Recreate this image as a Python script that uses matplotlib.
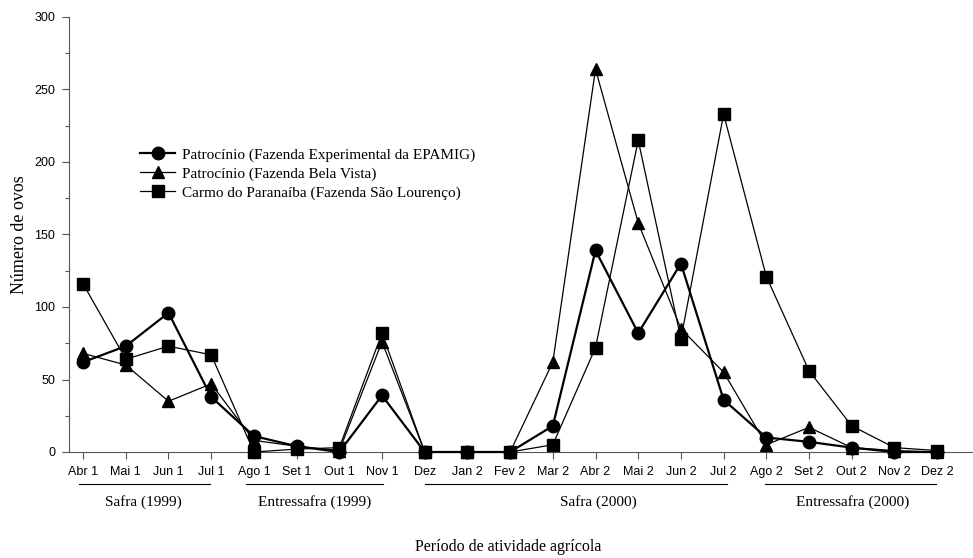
import numpy as np
import matplotlib.pyplot as plt
from matplotlib.ticker import MultipleLocator

meses = ['Abr 1','Mai 1','Jun 1','Jul 1','Ago 1','Set 1','Out 1','Nov 1','Dez',
         'Jan 2','Fev 2','Mar 2','Abr 2','Mai 2','Jun 2','Jul 2','Ago 2','Set 2',
         'Out 2','Nov 2','Dez 2']

epamig = [62, 73, 96, 38, 11, 4, 0, 39, 0, 0, 0, 18, 139, 82, 130, 36, 10, 7, 3, 0, 0]
bela_vista = [68, 60, 35, 47, 8, 4, 1, 76, 0, 0, 0, 62, 264, 158, 85, 55, 5, 17, 3, 1, 0]
sao_lourenco = [116, 64, 73, 67, 0, 2, 3, 82, 0, 0, 0, 5, 72, 215, 78, 233, 121, 56, 18, 3, 1]

nomes = ['Patrocínio (Fazenda Experimental da EPAMIG)',
         'Patrocínio (Fazenda Bela Vista)',
         'Carmo do Paranaíba (Fazenda São Lourenço)']

# periodos: (rotulo, inicio, fim, centro do texto) em posicoes de mes
periodos = [('Safra (1999)', -0.09, 2.98, 1.42),
            ('Entressafra (1999)', 3.82, 7.02, 5.43),
            ('Safra (2000)', 8.0, 15.08, 12.06),
            ('Entressafra (2000)', 15.98, 19.98, 18.03)]

serif = ['Liberation Serif', 'DejaVu Serif']
sans = ['Liberation Sans', 'DejaVu Sans']

x = np.arange(len(meses))

fig = plt.figure(figsize=(9.73, 5.58), dpi=100)
ax = fig.add_axes([69/973, 1-452/558, (973-69)/973, 435/558])

ax.plot(x, epamig, color='black', lw=1.6, marker='o', ms=9, clip_on=False, zorder=4, label=nomes[0])
ax.plot(x, bela_vista, color='black', lw=0.9, marker='^', ms=9, clip_on=False, zorder=3, label=nomes[1])
ax.plot(x, sao_lourenco, color='black', lw=0.9, marker='s', ms=8.5, clip_on=False, zorder=3, label=nomes[2])

ax.set_xlim(-0.33, 20.84)
ax.set_ylim(0, 300)
ax.set_xticks(x)
ax.set_xticklabels(meses, fontfamily=sans, fontsize=9)
ax.yaxis.set_major_locator(MultipleLocator(50))
ax.yaxis.set_minor_locator(MultipleLocator(25))
for lab in ax.get_yticklabels():
    lab.set_fontfamily(sans)
    lab.set_fontsize(9)
ax.tick_params(axis='both', which='major', length=5, width=0.8, color='#555555', pad=5)
ax.tick_params(axis='y', which='minor', length=3, width=0.8, color='#555555')

ax.spines['top'].set_visible(False)
ax.spines['right'].set_visible(False)
ax.spines['left'].set_color('#555555')
ax.spines['bottom'].set_color('#555555')

ax.set_ylabel('Número de ovos', fontfamily=serif, fontsize=13)
ax.yaxis.set_label_coords(-0.045, 0.5)

# linhas e rotulos dos periodos agricolas
trans = ax.get_xaxis_transform()
for rotulo, ini, fim, centro in periodos:
    ax.plot([ini, fim], [-0.0736, -0.0736], transform=trans, color='black', lw=0.8, clip_on=False)
    ax.text(centro, -0.115, rotulo, transform=trans, ha='center', va='center',
            fontfamily=serif, fontsize=11)

fig.text(508/973, 1-547/558, 'Período de atividade agrícola', ha='center', va='center',
         fontfamily=serif, fontsize=11.5)

ax.legend(loc='upper left', bbox_to_anchor=(140/973, 1-148/558), bbox_transform=fig.transFigure,
          frameon=False, borderpad=0, borderaxespad=0, handlelength=2.3, handletextpad=0.45,
          labelspacing=0.33, prop={'family': serif, 'size': 11})

fig.savefig('out.png', dpi=100)
